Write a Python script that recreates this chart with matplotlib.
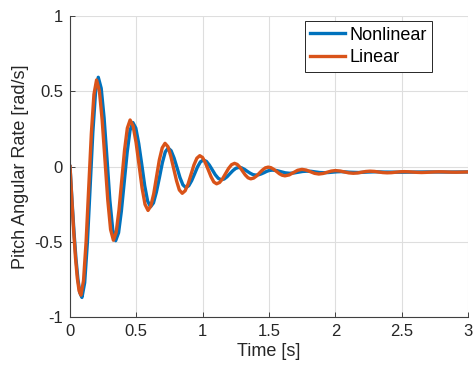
import numpy as np
import matplotlib
matplotlib.use("Agg")
from matplotlib import pyplot as plt

# Nonlinear response
t_nonlinear = [0.0, 0.015, 0.030, 0.045, 0.060, 0.075, 0.090,
               0.1105, 0.131, 0.1515, 0.172, 0.1925, 0.213,
               0.235, 0.257, 0.279, 0.300, 0.322, 0.344,
               0.366, 0.387, 0.409, 0.431, 0.452, 0.474,
               0.496, 0.518, 0.541, 0.563, 0.585, 0.607,
               0.629, 0.651, 0.674, 0.696, 0.718, 0.740,
               0.762, 0.784, 0.807, 0.829, 0.851, 0.873,
               0.895, 0.917, 0.939, 0.961, 0.983, 1.005,
               1.028, 1.050, 1.073, 1.095, 1.118, 1.140,
               1.162, 1.184, 1.206, 1.228, 1.250, 1.272,
               1.293, 1.315, 1.336, 1.357, 1.379, 1.400,
               1.421, 1.442, 1.4625, 1.483, 1.504, 1.525,
               1.5575, 1.590, 1.6225, 1.655,
               1.6875, 1.720, 1.7525, 1.785,
               1.8175, 1.850, 1.8825, 1.915,
               1.9475, 1.980, 2.0125, 2.045,
               2.110, 2.175, 2.240, 2.305, 2.370, 2.500, 2.700, 2.850, 3.0]
v_nonlinear = [0.0, -0.225, -0.435, -0.615, -0.753, -0.840, -0.870,
               -0.772, -0.504, -0.139, 0.227, 0.495, 0.593,
               0.520, 0.322, 0.050, -0.222, -0.420, -0.493,
               -0.440, -0.297, -0.101, 0.096, 0.239, 0.292,
               0.255, 0.152, 0.012, -0.128, -0.230, -0.268,
               -0.242, -0.170, -0.073, 0.025, 0.097, 0.123,
               0.105, 0.057, -0.009, -0.074, -0.122, -0.140,
               -0.128, -0.094, -0.049, -0.003, 0.031, 0.043,
               0.034, 0.010, -0.023, -0.055, -0.079, -0.088,
               -0.083, -0.068, -0.047, -0.027, -0.012, -0.006,
               -0.009, -0.019, -0.032, -0.044, -0.054, -0.057,
               -0.055, -0.049, -0.041, -0.032, -0.026, -0.024,
               -0.027, -0.0345, -0.042, -0.045,
               -0.043, -0.038, -0.033, -0.031,
               -0.032, -0.036, -0.040, -0.041,
               -0.040, -0.0375, -0.035, -0.034,
               -0.038, -0.040, -0.037, -0.035, -0.037, -0.038, -0.036, -0.037, -0.036]

# Linear model response
t_linear = [0.0, 0.0137, 0.0273, 0.041, 0.0547, 0.0683, 0.082,
            0.1017, 0.1213, 0.141, 0.1607, 0.1803, 0.200,
            0.2212, 0.2423, 0.2635, 0.2847, 0.3058, 0.327,
            0.348, 0.369, 0.390, 0.411, 0.432, 0.453,
            0.4755, 0.498, 0.5205, 0.543, 0.5655, 0.588,
            0.609, 0.631, 0.652, 0.673, 0.695, 0.716,
            0.738, 0.759, 0.781, 0.803, 0.824, 0.846,
            0.868, 0.890, 0.912, 0.934, 0.956, 0.978,
            0.999, 1.020, 1.042, 1.063, 1.084, 1.105,
            1.1275, 1.150, 1.1725, 1.195, 1.2175, 1.240,
            1.260, 1.281, 1.301, 1.321, 1.342, 1.362,
            1.384, 1.406, 1.428, 1.450, 1.472, 1.494,
            1.515, 1.536, 1.557, 1.578, 1.599, 1.620,
            1.652, 1.684, 1.716, 1.748,
            1.780, 1.8115, 1.843, 1.875,
            1.906, 1.9375, 1.969, 2.000,
            2.034, 2.0675, 2.101, 2.135,
            2.167, 2.1985, 2.230, 2.262,
            2.294, 2.326, 2.358, 2.390,
            2.4225, 2.455, 2.4875, 2.520,
            2.5525, 2.585, 2.6175, 2.650,
            2.6825, 2.715, 2.7475, 2.780,
            2.8125, 2.845, 2.8775, 2.910,
            2.955, 3.0]
v_linear = [0.0, -0.221, -0.428, -0.604, -0.740, -0.826, -0.855,
            -0.759, -0.498, -0.140, 0.218, 0.479, 0.575,
            0.504, 0.309, 0.043, -0.224, -0.419, -0.490,
            -0.437, -0.290, -0.091, 0.109, 0.255, 0.309,
            0.269, 0.159, 0.009, -0.142, -0.252, -0.292,
            -0.262, -0.181, -0.069, 0.043, 0.124, 0.154,
            0.132, 0.071, -0.012, -0.095, -0.156, -0.178,
            -0.161, -0.116, -0.053, 0.010, 0.055, 0.072,
            0.060, 0.025, -0.022, -0.068, -0.103, -0.115,
            -0.106, -0.081, -0.047, -0.013, 0.012, 0.021,
            0.014, -0.005, -0.031, -0.056, -0.075, -0.082,
            -0.077, -0.063, -0.043, -0.024, -0.009, -0.004,
            -0.008, -0.019, -0.033, -0.048, -0.058, -0.062,
            -0.056, -0.0405, -0.025, -0.019,
            -0.0235, -0.0345, -0.0455, -0.050,
            -0.0466, -0.0385, -0.0304, -0.027,
            -0.0296, -0.036, -0.0424, -0.045,
            -0.043, -0.038, -0.033, -0.031,
            -0.0326, -0.0365, -0.0404, -0.042,
            -0.041, -0.038, -0.035, -0.034,
            -0.035, -0.037, -0.039, -0.040,
            -0.039, -0.0375, -0.036, -0.035,
            -0.0354, -0.0365, -0.0376, -0.038,
            -0.037, -0.036]

x_ticks = [0, 0.5, 1, 1.5, 2, 2.5, 3]
x_ticklabels = ["0", "0.5", "1", "1.5", "2", "2.5", "3"]
y_ticks = [-1, -0.5, 0, 0.5, 1]
y_ticklabels = ["-1", "-0.5", "0", "0.5", "1"]

plt.rcParams['font.family'] = ['Liberation Sans', 'DejaVu Sans']

fig = plt.figure(figsize=(4.75, 3.74), dpi=100)
ax = fig.add_axes([0.1474, 0.1524, 0.8379, 0.8048])

ax.plot(t_nonlinear, v_nonlinear, color="#0072BD", lw=2.4, label="Nonlinear")
ax.plot(t_linear, v_linear, color="#D95319", lw=2.4, label="Linear")

ax.set_xlim(0, 3)
ax.set_ylim(-1, 1)
ax.set_xticks(x_ticks)
ax.set_xticklabels(x_ticklabels)
ax.set_yticks(y_ticks)
ax.set_yticklabels(y_ticklabels)
ax.grid(True, color="#dedede", lw=0.8)
ax.set_axisbelow(True)

for s in ["top", "right"]:
    ax.spines[s].set_visible(False)
for s in ["left", "bottom"]:
    ax.spines[s].set_color("#404040")
    ax.spines[s].set_linewidth(0.8)

ax.tick_params(direction="in", length=3.5, width=0.7, colors="#404040",
               labelsize=12, labelcolor="#262626", pad=5)

ax.set_xlabel("Time [s]", fontsize=13, color="#262626", labelpad=3)
ax.set_ylabel("Pitch Angular Rate [rad/s]", fontsize=13, color="#262626", labelpad=4)

leg = ax.legend(loc="upper right", bbox_to_anchor=(0.9095, 0.983), fontsize=13,
                frameon=True, fancybox=False, framealpha=1, edgecolor="#262626",
                handlelength=1.9, handletextpad=0.25, borderpad=0.3,
                labelspacing=0.32, borderaxespad=0)
leg.get_frame().set_linewidth(0.7)

fig.savefig("out.png", dpi=100)
